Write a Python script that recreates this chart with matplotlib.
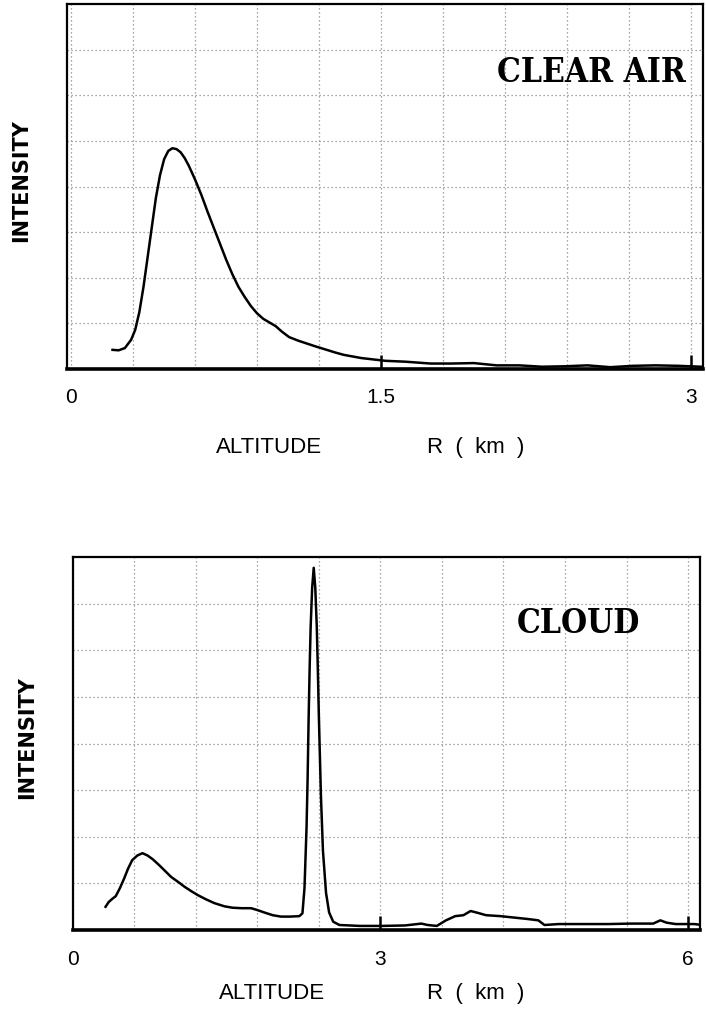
import matplotlib
matplotlib.use("Agg")
import matplotlib.pyplot as plt
from matplotlib.ticker import MultipleLocator
import numpy as np

# clear air return: altitude (km) vs intensity (grid divisions)
alt_clear = [0.20, 0.23, 0.26, 0.29, 0.31, 0.33, 0.35, 0.37, 0.39, 0.41,
             0.43, 0.45, 0.47, 0.49, 0.51, 0.53, 0.55, 0.57, 0.60, 0.63,
             0.66, 0.69, 0.72, 0.75, 0.78, 0.81, 0.84, 0.87, 0.90, 0.93,
             0.96, 0.99, 1.02, 1.055, 1.10, 1.14, 1.18, 1.23, 1.28, 1.32,
             1.405, 1.52, 1.62, 1.74, 1.84, 1.95, 2.06, 2.17, 2.28, 2.39,
             2.50, 2.61, 2.72, 2.83, 2.94, 3.05]
int_clear = [0.42, 0.41, 0.46, 0.64, 0.86, 1.25, 1.80, 2.45, 3.10, 3.75,
             4.25, 4.60, 4.78, 4.84, 4.82, 4.75, 4.62, 4.45, 4.15, 3.82,
             3.45, 3.10, 2.75, 2.40, 2.08, 1.80, 1.58, 1.38, 1.22, 1.10,
             1.02, 0.94, 0.82, 0.70, 0.62, 0.56, 0.50, 0.43, 0.36, 0.31,
             0.24, 0.18, 0.16, 0.12, 0.12, 0.13, 0.08, 0.08, 0.05, 0.06,
             0.08, 0.04, 0.07, 0.08, 0.07, 0.05]

# cloud return
alt_cloud = [0.32, 0.35, 0.38, 0.42, 0.46, 0.50, 0.54, 0.58, 0.63, 0.68,
             0.73, 0.78, 0.84, 0.90, 0.96, 1.03, 1.09, 1.16, 1.22, 1.30,
             1.38, 1.48, 1.56, 1.65, 1.74, 1.80, 1.88, 1.95, 2.03, 2.12,
             2.21, 2.24, 2.26, 2.28, 2.29, 2.30, 2.31, 2.32, 2.335, 2.35,
             2.365, 2.38, 2.39, 2.40, 2.42, 2.44, 2.47, 2.50, 2.54, 2.60,
             2.80, 3.02, 3.24, 3.40, 3.46, 3.55, 3.64, 3.73, 3.81, 3.88,
             3.95, 4.03, 4.17, 4.30, 4.43, 4.54, 4.60, 4.74, 5.00, 5.22,
             5.44, 5.66, 5.73, 5.79, 5.88, 6.06, 6.14]
int_cloud = [0.50, 0.60, 0.66, 0.73, 0.90, 1.10, 1.32, 1.50, 1.60, 1.65,
             1.60, 1.52, 1.40, 1.27, 1.14, 1.03, 0.93, 0.83, 0.75, 0.66,
             0.58, 0.51, 0.48, 0.47, 0.47, 0.43, 0.37, 0.32, 0.29, 0.29,
             0.30, 0.36, 0.90, 2.20, 3.20, 4.50, 5.60, 6.50, 7.35, 7.77,
             7.35, 6.50, 5.60, 4.60, 2.90, 1.70, 0.80, 0.38, 0.18, 0.11,
             0.09, 0.09, 0.10, 0.14, 0.11, 0.09, 0.21, 0.30, 0.32, 0.41,
             0.37, 0.32, 0.30, 0.27, 0.24, 0.21, 0.11, 0.13, 0.13, 0.13,
             0.14, 0.14, 0.21, 0.16, 0.13, 0.13, 0.11]

SANS = ["Liberation Sans Narrow", "Liberation Sans", "DejaVu Sans"]


def scope_panel(ax, x, y, xlim, xticks, xticklabels, grid_step, title, title_xy, label_y):
    ax.plot(x, y, color="black", lw=1.8, solid_joinstyle="round")
    ax.set_xlim(*xlim)
    ax.set_ylim(0, 8)

    ax.xaxis.set_minor_locator(MultipleLocator(grid_step))
    ax.set_xticks(xticks)
    ax.set_xticklabels(xticklabels, fontsize=15, family=SANS)
    ax.tick_params(axis="x", which="major", direction="in", length=10, width=1.8,
                   pad=14, bottom=True, top=False)
    ax.tick_params(axis="x", which="minor", length=0)
    # no tick mark at the origin, only its label
    ax.xaxis.get_major_ticks()[0].tick1line.set_visible(False)
    ax.set_yticks(np.arange(1, 8))
    ax.set_yticklabels([])
    ax.tick_params(axis="y", length=0)

    ax.grid(which="both", color="#8a8a8a", linestyle=(0, (1, 2.2)), lw=0.9)
    ax.set_axisbelow(True)

    for side in ("left", "top", "right"):
        ax.spines[side].set_linewidth(1.6)
    ax.spines["bottom"].set_linewidth(2.6)

    ax.text(title_xy[0], title_xy[1], title, transform=ax.transAxes,
            ha="center", va="center", fontsize=24, fontweight="bold",
            family=["DejaVu Serif"], fontstretch="condensed")

    ax.text(-0.072, 0.515, "INTENSITY", transform=ax.transAxes, rotation=90,
            ha="center", va="center", fontsize=15, fontweight="bold",
            family=["DejaVu Sans"])
    ax.text(0.317, label_y, "ALTITUDE", transform=ax.transAxes,
            ha="center", va="center", fontsize=16, family=SANS)
    ax.text(0.642, label_y, "R  (  km  )", transform=ax.transAxes,
            ha="center", va="center", fontsize=16, family=SANS)


fig = plt.figure(figsize=(7.06, 10.11), dpi=100)

ax_top = fig.add_axes([0.095, 0.635, 0.901, 0.361])
scope_panel(ax_top, alt_clear, int_clear, (-0.02, 3.06), [0, 1.5, 3], ["0", "1.5", "3"],
            0.3, "CLEAR AIR", (0.825, 0.813), -0.214)

ax_bot = fig.add_axes([0.103, 0.080, 0.889, 0.369])
scope_panel(ax_bot, alt_cloud, int_cloud, (0.0, 6.12), [0, 3, 6], ["0", "3", "6"],
            0.6, "CLOUD", (0.805, 0.823), -0.169)

fig.savefig("out.png", dpi=100)
